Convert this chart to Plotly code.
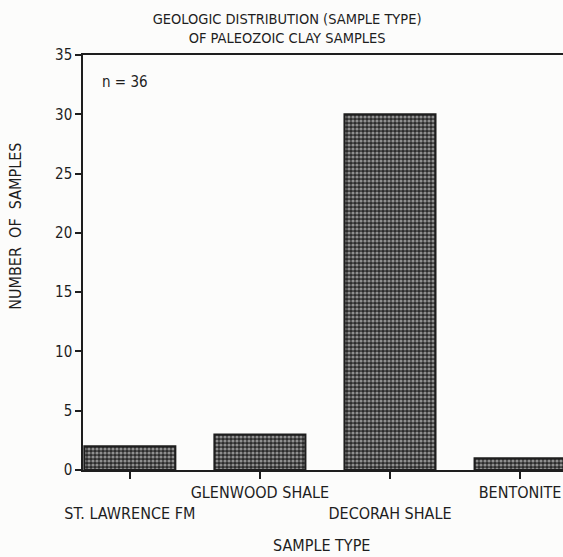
import plotly.graph_objects as go

# Data
SAMPLE_TYPES = ["ST. LAWRENCE FM", "GLENWOOD SHALE", "DECORAH SHALE", "BENTONITE"]
SAMPLE_COUNTS = [2, 3, 30, 1]
TICK_LABELS = ["<br>ST. LAWRENCE FM", "GLENWOOD SHALE", "<br>DECORAH SHALE", "BENTONITE"]
Y_TICKS = [0, 5, 10, 15, 20, 25, 30, 35]

INK = "#1e1e1e"
FAMILY = "DejaVu Sans Condensed, DejaVu Sans, sans-serif"

fig = go.Figure()

fig.add_trace(go.Bar(
    x=SAMPLE_TYPES,
    y=SAMPLE_COUNTS,
    width=0.7,
    marker=dict(
        color="#2a2a2a",
        line=dict(color=INK, width=2),
        pattern=dict(shape=".", fgcolor="#f4f4f4", size=4, solidity=0.5),
    ),
    showlegend=False,
))

# n label inside the plot
fig.add_annotation(
    text="n = %d" % sum(SAMPLE_COUNTS),
    xref="paper", yref="paper",
    x=0.036, y=0.934,
    xanchor="left", yanchor="middle",
    showarrow=False,
    font=dict(size=15, color=INK, family=FAMILY),
)

# axis titles placed as in the original (not centred on the plot)
fig.add_annotation(
    text="NUMBER&nbsp;&nbsp;OF&nbsp;&nbsp;SAMPLES",
    xref="paper", yref="paper",
    x=-0.14, y=0.588,
    xanchor="center", yanchor="middle",
    textangle=-90,
    showarrow=False,
    font=dict(size=16, color=INK, family=FAMILY),
)

fig.add_annotation(
    text="SAMPLE TYPE",
    xref="paper", yref="paper",
    x=0.496, y=-0.181,
    xanchor="center", yanchor="middle",
    showarrow=False,
    font=dict(size=16, color=INK, family=FAMILY),
)

fig.update_layout(
    width=563,
    height=557,
    paper_bgcolor="#fcfcfb",
    plot_bgcolor="#fcfcfb",
    font=dict(family=FAMILY, size=15, color=INK),
    margin=dict(l=83, r=0, t=55, b=87),
    title=dict(
        text="GEOLOGIC DISTRIBUTION (SAMPLE TYPE)<br>OF PALEOZOIC CLAY SAMPLES",
        x=0.51, xanchor="center",
        yref="container", y=1 - 24 / 557, yanchor="middle",
        font=dict(size=14.5, color=INK, family=FAMILY),
    ),
)

fig.update_xaxes(
    type="category",
    tickvals=SAMPLE_TYPES,
    ticktext=TICK_LABELS,
    range=[-0.36, 3.33],
    showline=True,
    linecolor=INK,
    linewidth=1.5,
    mirror=True,
    ticks="outside",
    ticklen=7,
    tickwidth=1.5,
    tickcolor=INK,
    tickangle=0,
    tickfont=dict(size=16),
    showgrid=False,
    automargin=False,
)

fig.update_yaxes(
    range=[0, 35],
    tickvals=Y_TICKS,
    showline=True,
    linecolor=INK,
    linewidth=1.5,
    ticks="outside",
    ticklen=6,
    tickwidth=1.5,
    tickcolor=INK,
    tickfont=dict(size=15),
    showgrid=False,
    zeroline=False,
    automargin=False,
)

fig.write_html(
    "out.html",
    config={"displayModeBar": False},
    post_script="document.body.style.margin='0';",
)
